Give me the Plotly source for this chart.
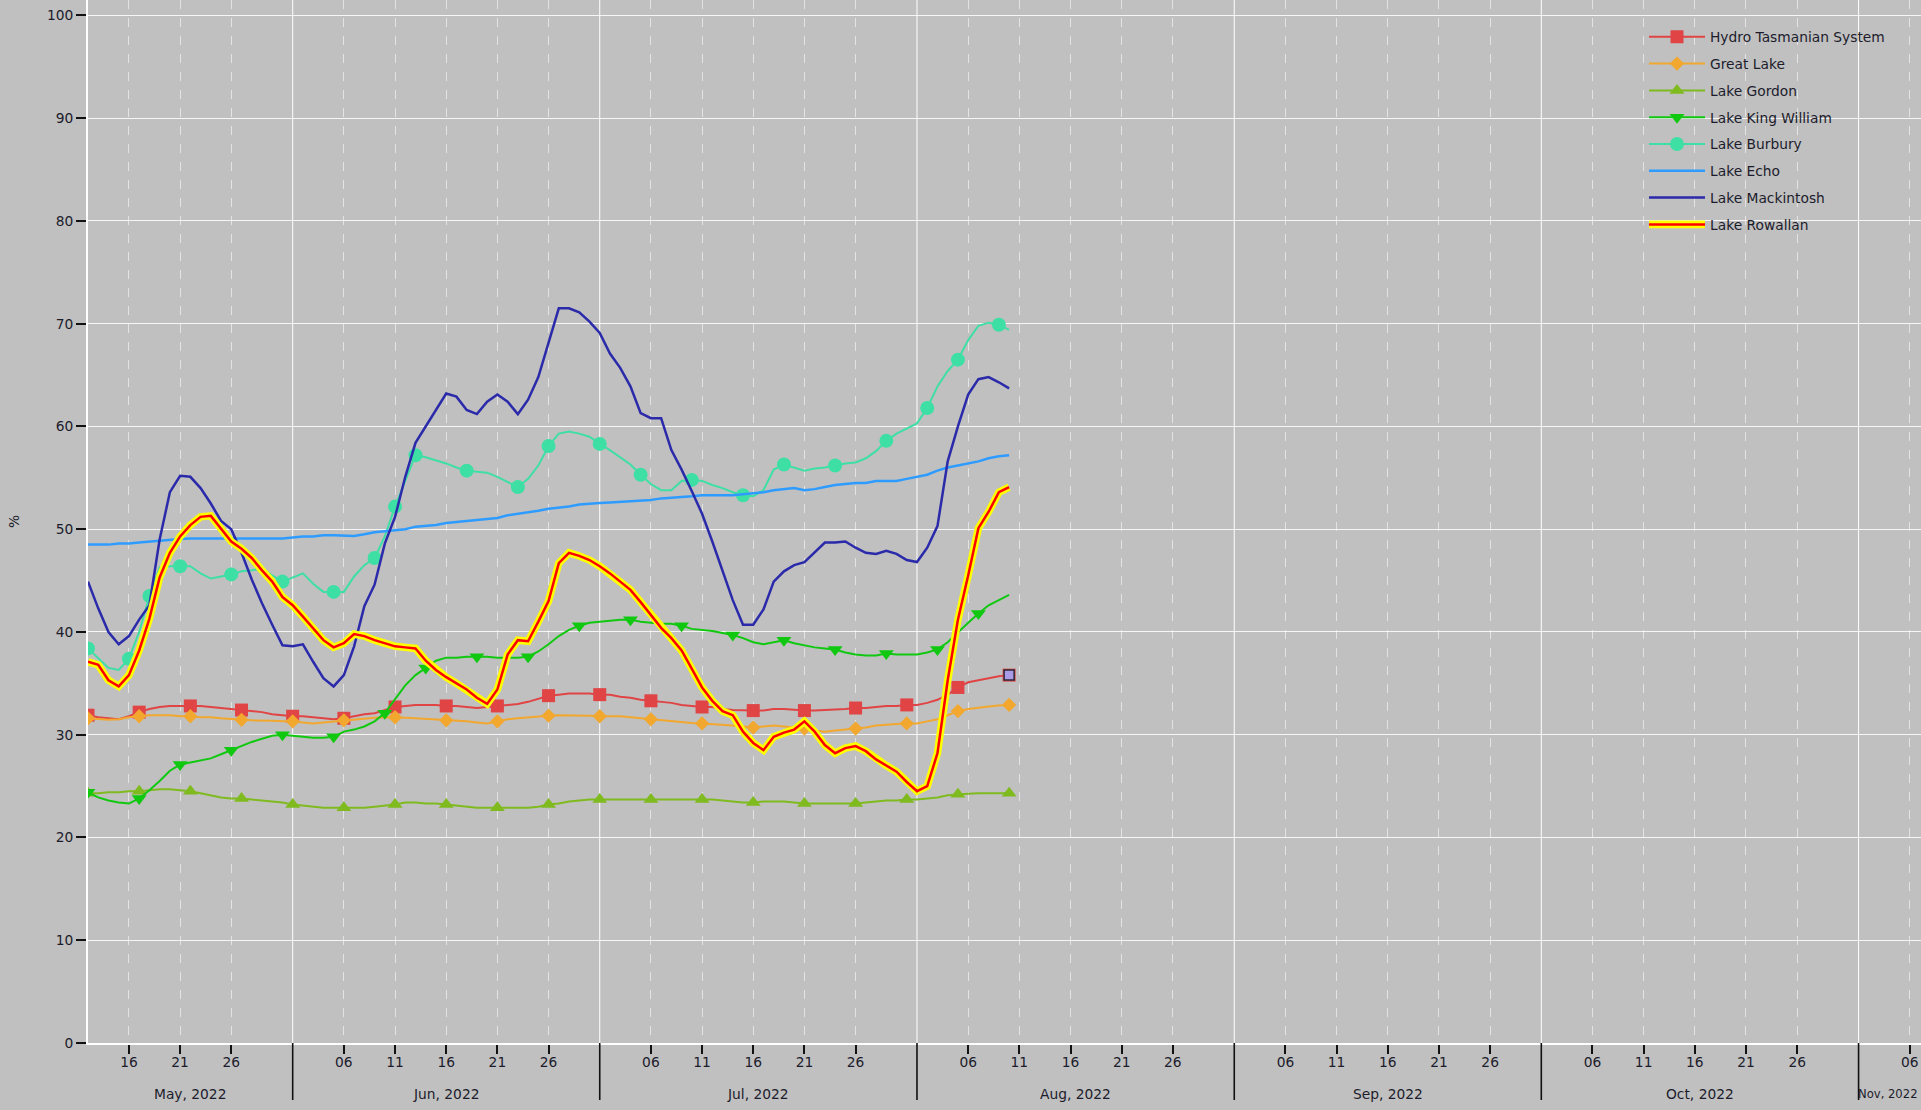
import math
from datetime import datetime, timedelta
import plotly.graph_objects as go

# ---------------- data (daily storage %, 12 May 2022 -> 10 Aug 2022) ----------------
hydro = [
    31.9, 31.7, 31.6, 31.5, 31.8, 32.2, 32.5, 32.7, 32.8, 32.8,
    32.8, 32.8, 32.7, 32.6, 32.5, 32.4, 32.35, 32.2, 32.0, 31.9,
    31.8, 31.8, 31.7, 31.6, 31.5, 31.6, 31.8, 32.0, 32.1, 32.4,
    32.7, 32.8, 32.9, 32.9, 32.9, 32.8, 32.8, 32.7, 32.6, 32.7,
    32.8, 32.9, 33.0, 33.2, 33.5, 33.8, 33.9, 34.0, 34.0, 34.0,
    33.9, 33.9, 33.7, 33.6, 33.4, 33.3, 33.2, 33.1, 32.9, 32.8,
    32.7, 32.7, 32.5, 32.4, 32.35, 32.35, 32.35, 32.5, 32.5, 32.4,
    32.35, 32.35, 32.4, 32.4, 32.5, 32.6, 32.6, 32.7, 32.8, 32.8,
    32.9, 32.9, 33.1, 33.4, 33.9, 34.6, 35.1, 35.3, 35.5, 35.7,
    35.8]
great_lake = [
    31.6, 31.5, 31.45, 31.5, 31.7, 31.8, 31.9, 31.9, 31.9, 31.8,
    31.8, 31.7, 31.7, 31.6, 31.5, 31.45, 31.4, 31.4, 31.35, 31.3,
    31.3, 31.2, 31.1, 31.2, 31.3, 31.4, 31.5, 31.6, 31.65, 31.7,
    31.7, 31.65, 31.6, 31.55, 31.5, 31.4, 31.35, 31.3, 31.2, 31.1,
    31.3, 31.5, 31.6, 31.7, 31.8, 31.85, 31.9, 31.9, 31.9, 31.85,
    31.8, 31.8, 31.8, 31.7, 31.6, 31.5, 31.4, 31.3, 31.2, 31.15,
    31.1, 31.05, 31.0, 30.9, 30.8, 30.7, 30.8, 30.9, 30.8, 30.7,
    30.6, 30.4, 30.3, 30.4, 30.5, 30.6, 30.7, 30.9, 31.0, 31.05,
    31.1, 31.1, 31.3, 31.5, 31.9, 32.3, 32.5, 32.65, 32.75, 32.85,
    32.9]
gordon = [
    24.3, 24.3, 24.4, 24.4, 24.5, 24.5, 24.6, 24.7, 24.7, 24.6,
    24.5, 24.3, 24.1, 23.9, 23.8, 23.8, 23.7, 23.6, 23.5, 23.4,
    23.2, 23.1, 23.0, 22.9, 22.9, 22.9, 22.9, 22.9, 23.0, 23.1,
    23.2, 23.4, 23.4, 23.3, 23.3, 23.2, 23.1, 23.0, 22.9, 22.9,
    22.9, 22.9, 22.9, 22.9, 23.0, 23.2, 23.3, 23.5, 23.6, 23.7,
    23.7, 23.7, 23.7, 23.7, 23.7, 23.7, 23.7, 23.7, 23.7, 23.7,
    23.7, 23.7, 23.6, 23.5, 23.4, 23.4, 23.5, 23.5, 23.5, 23.4,
    23.3, 23.3, 23.3, 23.3, 23.3, 23.3, 23.4, 23.5, 23.6, 23.6,
    23.7, 23.7, 23.8, 23.9, 24.1, 24.2, 24.25, 24.3, 24.3, 24.3,
    24.3]
king_william = [
    24.4, 23.9, 23.6, 23.4, 23.3, 23.8, 24.6, 25.5, 26.5, 27.1,
    27.3, 27.5, 27.7, 28.1, 28.5, 28.9, 29.3, 29.6, 29.9, 30.0,
    29.9, 29.8, 29.7, 29.7, 29.8, 30.3, 30.5, 30.8, 31.3, 32.1,
    33.5, 34.8, 35.8, 36.5, 37.2, 37.5, 37.5, 37.6, 37.6, 37.6,
    37.5, 37.5, 37.5, 37.6, 38.1, 38.8, 39.6, 40.2, 40.6, 40.9,
    41.0, 41.1, 41.2, 41.2, 41.0, 40.9, 40.8, 40.8, 40.6, 40.3,
    40.2, 40.1, 39.9, 39.7, 39.4, 39.0, 38.8, 39.0, 39.2, 38.9,
    38.7, 38.5, 38.4, 38.3, 38.0, 37.8, 37.7, 37.7, 37.9, 37.8,
    37.8, 37.8, 38.0, 38.3, 39.0, 40.0, 40.9, 41.8, 42.6, 43.1,
    43.6]
burbury = [
    38.4, 37.5, 36.5, 36.3, 37.4, 40.0, 43.5, 46.3, 46.4, 46.4,
    46.4, 45.7, 45.2, 45.4, 45.6, 45.9, 46.0, 46.2, 45.5, 44.9,
    45.3, 45.7, 44.7, 43.9, 43.9, 43.9, 45.4, 46.5, 47.2, 49.3,
    52.2, 54.8, 57.2, 57.0, 56.7, 56.4, 56.0, 55.7, 55.6, 55.5,
    55.1, 54.6, 54.1, 54.9, 56.2, 58.1, 59.3, 59.5, 59.3, 59.0,
    58.3, 57.7, 57.0, 56.3, 55.3, 54.4, 53.8, 53.8, 54.7, 54.8,
    54.7, 54.3, 54.0, 53.6, 53.3, 53.2, 53.8, 55.8, 56.3, 56.0,
    55.7, 55.9, 56.0, 56.2, 56.4, 56.5, 56.9, 57.6, 58.6, 59.3,
    59.8, 60.3, 61.8, 63.9, 65.4, 66.5, 68.4, 69.8, 70.1, 69.9,
    69.4]
echo = [
    48.5, 48.5, 48.5, 48.6, 48.6, 48.7, 48.8, 48.9, 49.0, 49.05,
    49.1, 49.1, 49.1, 49.1, 49.1, 49.1, 49.1, 49.1, 49.1, 49.1,
    49.2, 49.3, 49.3, 49.4, 49.4, 49.4, 49.35, 49.5, 49.7, 49.8,
    49.9, 50.0, 50.25, 50.3, 50.4, 50.6, 50.7, 50.8, 50.9, 51.0,
    51.1, 51.35, 51.5, 51.6, 51.8, 52.0, 52.1, 52.2, 52.4, 52.5,
    52.55, 52.6, 52.65, 52.7, 52.75, 52.85, 53.0, 53.05, 53.1, 53.2,
    53.3, 53.3, 53.35, 53.3, 53.4, 53.5, 53.6, 53.8, 53.9, 54.0,
    53.8, 53.9, 54.1, 54.3, 54.4, 54.5, 54.5, 54.7, 54.7, 54.7,
    54.9, 55.1, 55.3, 55.7, 56.0, 56.2, 56.4, 56.6, 56.9, 57.1,
    57.2]
mackintosh = [
    44.9, 42.3, 40.0, 38.8, 39.6, 41.2, 42.6, 49.0, 53.6, 55.2,
    55.1, 54.0, 52.5, 50.8, 50.0, 47.7, 45.1, 42.8, 40.7, 38.7,
    38.6, 38.8, 37.1, 35.5, 34.7, 35.8, 38.6, 42.5, 44.6, 48.6,
    51.2, 55.1, 58.4, 60.0, 61.6, 63.2, 62.9, 61.6, 61.2, 62.4,
    63.1, 62.4, 61.2, 62.6, 64.8, 68.2, 71.5, 71.5, 71.1, 70.2,
    69.1, 67.1, 65.7, 63.9, 61.3, 60.8, 60.8, 57.7, 55.8, 53.7,
    51.5, 48.8, 46.0, 43.1, 40.7, 40.7, 42.2, 44.9, 45.9, 46.5,
    46.8, 47.8, 48.7, 48.7, 48.8, 48.2, 47.7, 47.6, 47.9, 47.6,
    47.0, 46.8, 48.2, 50.3, 56.6, 60.0, 63.1, 64.6, 64.8, 64.3,
    63.7]
rowallan = [
    37.1, 36.8, 35.3, 34.7, 35.8, 38.2, 41.3, 45.3, 47.7, 49.3,
    50.4, 51.2, 51.3, 50.0, 48.8, 48.1, 47.2, 46.0, 44.9, 43.4,
    42.6, 41.5, 40.4, 39.2, 38.5, 38.9, 39.8, 39.6, 39.2, 38.9,
    38.6, 38.5, 38.4, 37.2, 36.3, 35.6, 35.0, 34.4, 33.6, 33.0,
    34.4, 37.8, 39.2, 39.1, 41.0, 43.0, 46.7, 47.7, 47.4, 47.0,
    46.4, 45.7, 44.9, 44.1, 42.9, 41.7, 40.4, 39.4, 38.2, 36.4,
    34.6, 33.3, 32.3, 31.9, 30.3, 29.2, 28.5, 29.8, 30.2, 30.5,
    31.3, 30.3, 29.0, 28.2, 28.7, 28.9, 28.4, 27.6, 27.0, 26.4,
    25.4, 24.5, 25.0, 28.2, 35.3, 41.2, 45.5, 50.1, 51.7, 53.6,
    54.1]

series_names = ["Hydro Tasmanian System", "Great Lake", "Lake Gordon",
                "Lake King William", "Lake Burbury", "Lake Echo",
                "Lake Mackintosh", "Lake Rowallan"]
month_names = ["May", "Jun", "Jul", "Aug", "Sep", "Oct", "Nov"]
tick_days = [6, 11, 16, 21, 26]

START = datetime(2022, 5, 12)
END = START + timedelta(days=179.1)
dates = [START + timedelta(days=i) for i in range(len(hydro))]

# ---------------- styling ----------------
FONT = "DejaVu Sans, Verdana, sans-serif"
FS = 13.8
TXT = "#1c1c2c"
BG = "#C0C0C0"
PX_DAY, PX_UNIT, SPACING = 10.235, 10.28, 51.0


def marker_points(vals):
    """Thin the markers along the drawn line (one roughly every 51 px of path)."""
    idx, acc = [0], 0.0
    for i in range(1, len(vals)):
        acc += math.hypot(PX_DAY, (vals[i] - vals[i - 1]) * PX_UNIT)
        if acc >= SPACING:
            idx.append(i)
            acc = 0.0
    return idx


styles = [
    (hydro, "#E04444", "square", 13, 2.0),
    (great_lake, "#F2A72E", "diamond", 11, 2.0),
    (gordon, "#7FBA1F", "triangle-up", 13, 2.0),
    (king_william, "#10C810", "triangle-down", 13, 2.0),
    (burbury, "#3EDFA5", "circle", 14, 2.0),
    (echo, "#2E9BFF", None, 0, 2.5),
    (mackintosh, "#2A2AAA", None, 0, 2.5),
]

fig = go.Figure()
for name, (vals, color, sym, size, lw) in zip(series_names, styles):
    if sym:
        fig.add_trace(go.Scatter(
            x=dates, y=vals, name=name, legendgroup=name, mode="lines+markers",
            line=dict(color=color, width=lw),
            marker=dict(symbol=sym, size=size, color=color),
            selectedpoints=marker_points(vals),
            selected=dict(marker=dict(opacity=1)),
            unselected=dict(marker=dict(opacity=0)),
            hoverinfo="skip"))
    else:
        fig.add_trace(go.Scatter(
            x=dates, y=vals, name=name, legendgroup=name, mode="lines",
            line=dict(color=color, width=lw), hoverinfo="skip"))

# Lake Rowallan: red line with a yellow halo
fig.add_trace(go.Scatter(x=dates, y=rowallan, mode="lines", legendgroup="Lake Rowallan",
                         showlegend=False, line=dict(color="#FFFF00", width=7.5),
                         hoverinfo="skip"))
fig.add_trace(go.Scatter(x=dates, y=rowallan, mode="lines", name="Lake Rowallan",
                         legendgroup="Lake Rowallan",
                         line=dict(color="#FF0000", width=2.5), hoverinfo="skip"))
# highlighted last point of the system series
fig.add_trace(go.Scatter(x=[dates[-1]], y=[hydro[-1]], mode="markers", showlegend=False,
                         marker=dict(symbol="square", size=10, color="#A99BE6",
                                     line=dict(color="#2a2a3a", width=1.5)),
                         hoverinfo="skip"))

# ---------------- axes decorations ----------------
month_starts = [datetime(2022, 5 + i, 1) for i in range(len(month_names))] + [datetime(2022, 12, 1)]
tickvals = [datetime(2022, 5 + i, d) for i in range(len(month_names)) for d in tick_days]
tickvals = [t for t in tickvals if START <= t <= END]

shapes, annotations = [], []
for i, m in enumerate(month_names):
    ms, me = month_starts[i], month_starts[i + 1]
    vs, ve = max(ms, START), min(me, END)
    if me <= END:
        annotations.append(dict(x=vs + (ve - vs) / 2, xref="x", y=0, yref="paper",
                                yshift=-51, yanchor="middle", text=f"{m}, 2022",
                                showarrow=False, font=dict(family=FONT, size=FS, color=TXT)))
    else:  # last, partly visible month: keep its label inside the page
        annotations.append(dict(x=1, xref="paper", xanchor="right", xshift=-1, y=0,
                                yref="paper", yshift=-51, yanchor="middle",
                                text=f"{m}, 2022", showarrow=False,
                                font=dict(family=FONT, size=11.6, color=TXT)))
    if ms > START:
        shapes.append(dict(type="line", xref="x", yref="paper", x0=ms, x1=ms, y0=0, y1=1,
                           layer="between", line=dict(color="white", width=1)))
        shapes.append(dict(type="line", xref="x", yref="paper", x0=ms, x1=ms, y0=0,
                           y1=-57 / 1043, layer="above", line=dict(color="#111111", width=1.6)))

# legend geometry (px) and the halo of the Lake Rowallan legend icon
LEG_X, LEG_PITCH = 1644, 26.8
ITEM_H = FS * 1.3 + 3
LEG_TOP = 36.8 - (5 + ITEM_H / 2)
row_y = 36.8 + 7 * LEG_PITCH
shapes.append(dict(type="rect", xref="paper", yref="paper",
                   x0=(LEG_X + 5 - 88) / 1833, x1=(LEG_X + 61 - 88) / 1833,
                   y0=(1043 - row_y - 3.8) / 1043, y1=(1043 - row_y + 3.8) / 1043,
                   fillcolor="#FFFF00", line=dict(width=0), layer="above"))

fig.update_layout(
    template="none",
    width=1921, height=1110,
    margin=dict(l=88, r=0, t=0, b=67),
    paper_bgcolor=BG, plot_bgcolor=BG,
    font=dict(family=FONT, size=FS, color=TXT),
    showlegend=True,
    legend=dict(x=(LEG_X - 88) / 1833, y=(1043 - LEG_TOP) / 1043, xanchor="left", yanchor="top",
                bgcolor="rgba(0,0,0,0)", borderwidth=0, itemwidth=56,
                tracegroupgap=LEG_PITCH - ITEM_H, traceorder="grouped", itemsizing="trace",
                font=dict(family=FONT, size=FS, color=TXT)),
    xaxis=dict(type="date", range=[START, END], tickvals=tickvals, tickformat="%d",
               ticks="outside", ticklen=9, tickwidth=1.5, tickcolor="#111111",
               ticklabelstandoff=-4,
               tickfont=dict(family=FONT, size=FS, color=TXT),
               showgrid=True, gridcolor="rgba(255,255,255,0.55)", griddash="dash", gridwidth=1,
               showline=True, linecolor="white", linewidth=2, zeroline=False,
               automargin=False, fixedrange=True),
    yaxis=dict(range=[0, 101.5], tick0=0, dtick=10, ticks="outside", ticklen=10,
               tickwidth=1.5, tickcolor="#111111",
               tickfont=dict(family=FONT, size=FS, color=TXT),
               showgrid=True, gridcolor="rgba(255,255,255,0.85)", gridwidth=1,
               showline=True, linecolor="white", linewidth=2, zeroline=False,
               title=dict(text="%", standoff=24, font=dict(family=FONT, size=FS, color=TXT)),
               automargin=False, fixedrange=True),
    shapes=shapes, annotations=annotations,
)

fig.write_html("out.html", config={"displayModeBar": False},
               post_script="document.body.style.margin='0';document.body.style.overflow='hidden';")
